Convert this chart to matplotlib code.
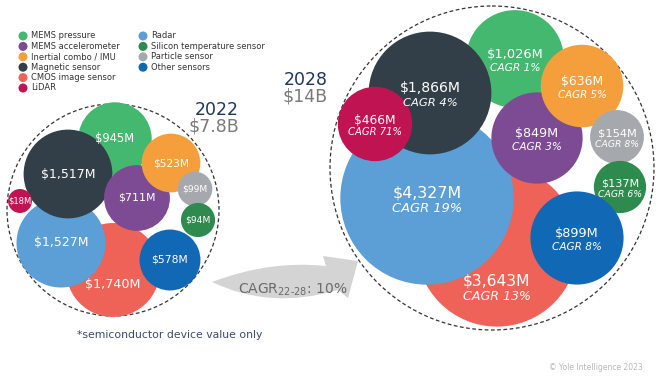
import matplotlib
matplotlib.use('Agg')
import matplotlib.pyplot as plt
from matplotlib.patches import Circle, PathPatch
from matplotlib.path import Path

# Categories and values (in $M)
categories = ['MEMS pressure', 'MEMS accelerometer', 'Inertial combo / IMU',
              'Magnetic sensor', 'CMOS image sensor', 'LiDAR', 'Radar',
              'Silicon temperature sensor', 'Particle sensor', 'Other sensors']
values_2022 = [945, 711, 523, 1517, 1740, 18, 1527, 94, 99, 578]
values_2028 = [1026, 849, 636, 1866, 3643, 466, 4327, 137, 154, 899]
cagr_22_28 = [1, 3, 5, 4, 13, 71, 19, 6, 8, 8]
total_cagr = 10

colors = ['#45b870', '#7d4b94', '#f59f3c', '#333f48', '#ee6257',
          '#c01452', '#5b9fd6', '#2f8a4e', '#a5a9ad', '#1168b4']

# Layout of the packed bubbles (pixel space), kept apart from the data
centers_2022 = [(115, 139), (137, 198), (171, 163), (68, 174), (113, 270),
                (20, 201), (61, 243), (198, 220), (195, 189), (170, 260)]
centers_2028 = [(515, 59), (537, 138), (582, 86), (430, 93), (497, 246),
                (375, 124), (427, 198), (620, 187), (617, 137), (577, 238)]
# drawing order (bottom -> top)
draw_order = [4, 6, 0, 3, 5, 1, 2, 8, 7, 9]


def radius(v, base, scale):
    return base + scale * v ** 0.5


fig = plt.figure(figsize=(6.6, 3.87), dpi=100)
ax = fig.add_axes([0, 0, 1, 1])
ax.set_xlim(0, 660)
ax.set_ylim(387, 0)
ax.axis('off')

# Legend (6 rows in first column, 4 in second)
for i, (name, c) in enumerate(zip(categories, colors)):
    col, row = (0, i) if i < 6 else (1, i - 6)
    x = 23 + col * 120
    y = 36 + row * 10.4
    ax.scatter([x], [y], s=42, color=c, edgecolors='none', zorder=5)
    ax.text(x + 8, y, name, fontsize=6, color='#333333', va='center', ha='left')


def draw_group(values, centers, base, scale, fs_base, fs_scale, show_cagr, outer):
    ocx, ocy, orr = outer
    ax.add_patch(Circle((ocx, ocy), orr, fill=False, edgecolor='#333333',
                        linewidth=0.9, linestyle=(0, (3, 2)), zorder=1))
    for z, i in enumerate(draw_order):
        cx, cy = centers[i]
        r = radius(values[i], base, scale)
        ax.add_patch(Circle((cx, cy), r, facecolor=colors[i], edgecolor='none', zorder=2 + z))
        fs = fs_base + fs_scale * r
        # CMOS label sits in the visible lower part of its bubble
        dy = 14 if i == 4 and not show_cagr else (40 if i == 4 else 0)
        if show_cagr:
            ax.text(cx, cy + dy - 0.45 * fs, f"${values[i]:,}M", fontsize=fs, color='white',
                    ha='center', va='center', zorder=20)
            ax.text(cx, cy + dy + 0.95 * fs, f"CAGR {cagr_22_28[i]}%", fontsize=fs * 0.82,
                    color='white', style='italic', ha='center', va='center', zorder=20)
        else:
            ax.text(cx, cy + dy, f"${values[i]:,}M", fontsize=fs, color='white',
                    ha='center', va='center', zorder=20)


draw_group(values_2022, centers_2022, 8, 0.934, 5, 0.09, False, (113, 210, 106))
draw_group(values_2028, centers_2028, 13, 1.12, 6.7, 0.055, True, (492, 168, 162))


def fmt_total(v):
    return '$' + f"{v / 1000:.1f}".rstrip('0').rstrip('.') + 'B'


ax.text(239, 110, '2022', fontsize=12.5, color='#1f3560', ha='right', va='center')
ax.text(239, 127, fmt_total(sum(values_2022)), fontsize=12.5, color='#7a7a7a', ha='right', va='center')
ax.text(328, 80, '2028', fontsize=12.5, color='#1f3560', ha='right', va='center')
ax.text(328, 97, fmt_total(sum(values_2028)), fontsize=12.5, color='#7a7a7a', ha='right', va='center')

# Curved growth arrow
verts = [(212, 282), (270, 260), (326, 266),
         (323, 256), (358, 261), (348, 298), (338, 290),
         (270, 310), (212, 282)]
codes = [Path.MOVETO, Path.CURVE3, Path.CURVE3,
         Path.LINETO, Path.LINETO, Path.LINETO, Path.LINETO,
         Path.CURVE3, Path.CURVE3]
ax.add_patch(PathPatch(Path(verts, codes), facecolor='#d4d4d4', edgecolor='none', zorder=1))
ax.text(238, 290, 'CAGR$_{\\mathregular{22\\text{-}28}}$: ' + f'{total_cagr}%', fontsize=10,
        color='#6a6a6a', ha='left', va='center', zorder=3)

ax.text(77, 335, '*semiconductor device value only', fontsize=7.8, color='#3a4a6e',
        ha='left', va='center')
ax.text(643, 367, '\u00a9 Yole Intelligence 2023', fontsize=5.5, color='#b8b8b8',
        ha='right', va='center')

fig.savefig('out.png', dpi=100, facecolor='white')
